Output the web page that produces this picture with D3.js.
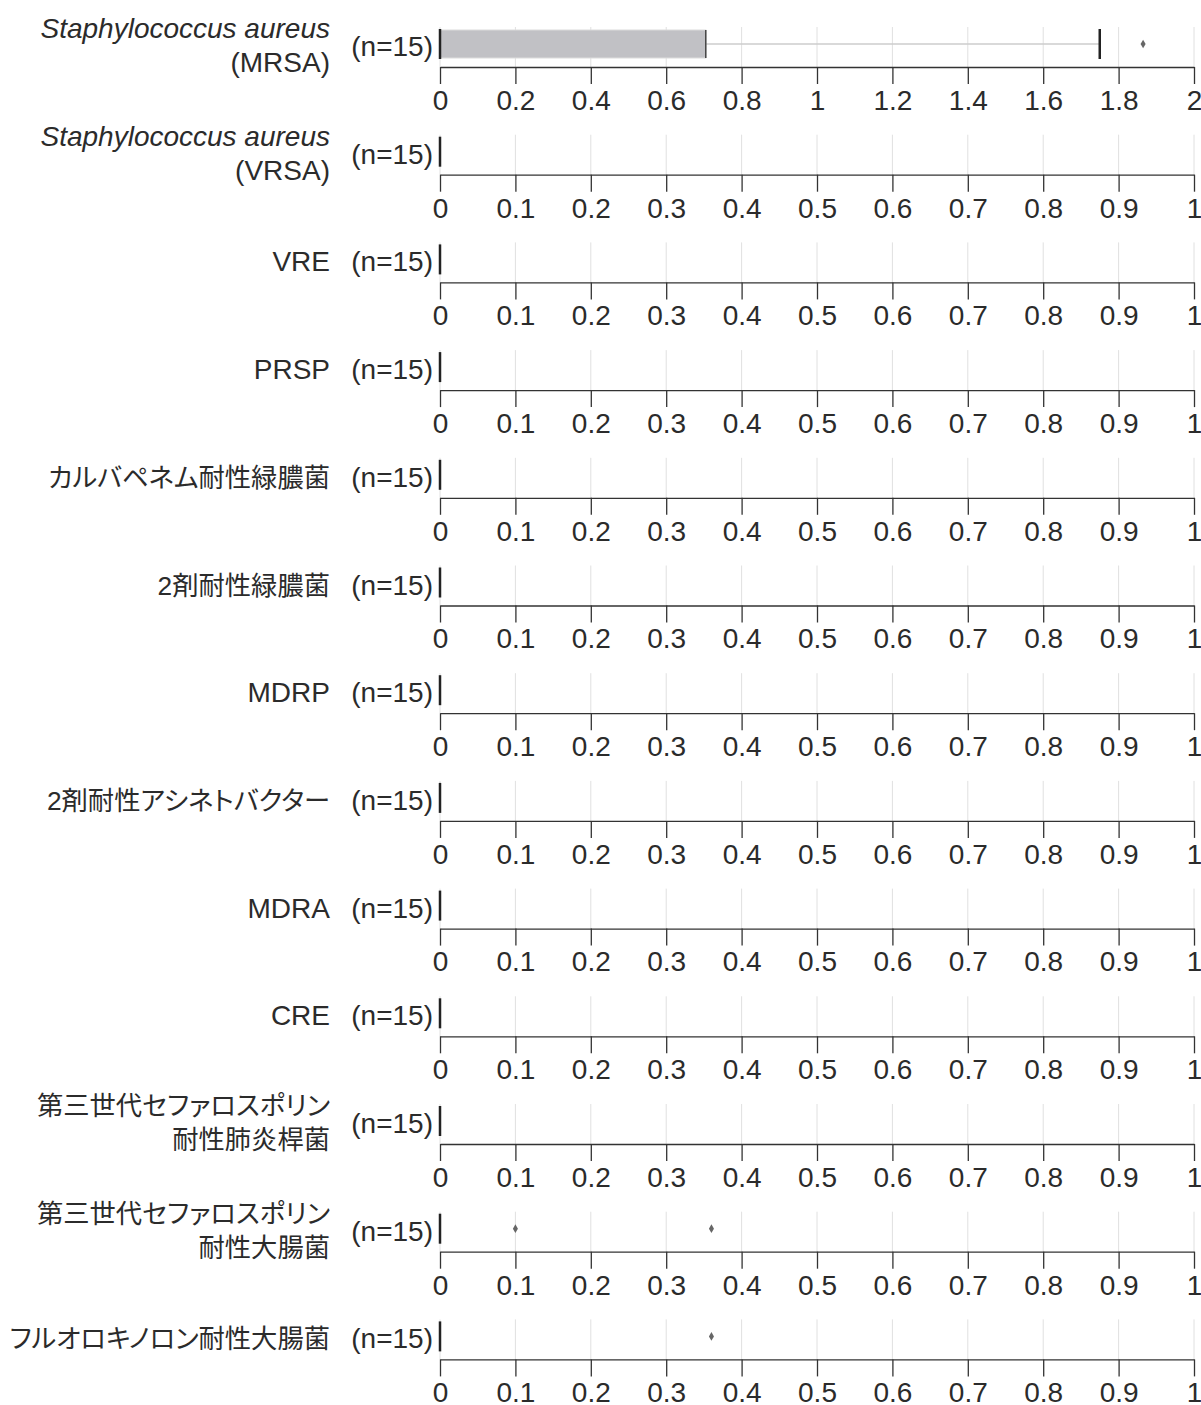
<!DOCTYPE html>
<html>
<head>
<meta charset="utf-8">
<script src="https://cdn.jsdelivr.net/npm/d3@7"></script>
<style>
  html, body { margin: 0; padding: 0; background: #fff; }
  svg text { font-family: "Liberation Sans", Arial, "Noto Sans CJK JP", sans-serif; fill: #2b2b2b; font-feature-settings: "palt"; }
</style>
</head>
<body>
<svg id="chart" width="1201" height="1405"></svg>
<script>
// ---- data ----
const categoryLine1 = [
  "Staphylococcus aureus", "Staphylococcus aureus", "", "", "", "", "", "", "", "",
  "第三世代セファロスポリン", "第三世代セファロスポリン", ""
];
const categoryLine2 = [
  "(MRSA)", "(VRSA)", "VRE", "PRSP", "カルバペネム耐性緑膿菌", "2剤耐性緑膿菌", "MDRP",
  "2剤耐性アシネトバクター", "MDRA", "CRE", "耐性肺炎桿菌", "耐性大腸菌", "フルオロキノロン耐性大腸菌"
];
const italicLine1 = [true, true, false, false, false, false, false, false, false, false, false, false, false];
const nValues = [15, 15, 15, 15, 15, 15, 15, 15, 15, 15, 15, 15, 15];
const q1Values     = [0, 0, 0, 0, 0, 0, 0, 0, 0, 0, 0, 0, 0];
const medianValues = [0, 0, 0, 0, 0, 0, 0, 0, 0, 0, 0, 0, 0];
const q3Values     = [0.705, 0, 0, 0, 0, 0, 0, 0, 0, 0, 0, 0, 0];
const whiskerLow   = [0, 0, 0, 0, 0, 0, 0, 0, 0, 0, 0, 0, 0];
const whiskerHigh  = [1.75, 0, 0, 0, 0, 0, 0, 0, 0, 0, 0, 0, 0];
const outlierValues = [[1.865], [], [], [], [], [], [], [], [], [], [], [0.1, 0.36], [0.36]];
const axisMax   = [2, 1, 1, 1, 1, 1, 1, 1, 1, 1, 1, 1, 1];
const tickCount = [10, 10, 10, 10, 10, 10, 10, 10, 10, 10, 10, 10, 10];

// ---- layout ----
const svg = d3.select("#chart");
const x0 = 440, x1 = 1194;
const firstAxisY = 67, rowStep = 107.7;
const plotH = 40;
const fontSize = 28;
const cjkSize = 26.3;
const isCJK = s => /[\u3000-\u9fff]/.test(s);

svg.append("rect").attr("width", 1201).attr("height", 1405).attr("fill", "#fff");

categoryLine2.forEach((cat, i) => {
  const ay = firstAxisY + i * rowStep;
  const g = svg.append("g");
  const x = d3.scaleLinear().domain([0, axisMax[i]]).range([x0, x1]);
  const ticks = x.ticks(tickCount[i]);

  // gridlines
  g.selectAll("line.grid").data(ticks).enter().append("line")
    .attr("x1", d => x(d)).attr("x2", d => x(d))
    .attr("y1", ay - plotH).attr("y2", ay)
    .attr("stroke", "#e0e0e0").attr("stroke-width", 1);

  // axis
  const axis = d3.axisBottom(x).tickValues(ticks).tickSize(17).tickSizeOuter(0).tickPadding(6)
    .tickFormat(d3.format("~g"));
  const ag = g.append("g").attr("transform", `translate(0,${ay})`).call(axis);
  ag.select(".domain").attr("stroke", "#333").attr("stroke-width", 1.3);
  ag.selectAll(".tick line").attr("stroke", "#333").attr("stroke-width", 1.3);
  ag.selectAll(".tick text").attr("font-size", fontSize).attr("fill", "#2b2b2b")
    .style("font-family", "'Liberation Sans', Arial, sans-serif");

  const cy = ay - 23;
  // whisker line
  if (whiskerHigh[i] > q3Values[i]) {
    g.append("line").attr("x1", x(q3Values[i])).attr("x2", x(whiskerHigh[i]))
      .attr("y1", cy).attr("y2", cy).attr("stroke", "#cccccc").attr("stroke-width", 1.5);
    g.append("line").attr("x1", x(whiskerHigh[i])).attr("x2", x(whiskerHigh[i]))
      .attr("y1", ay - 38).attr("y2", ay - 8).attr("stroke", "#222").attr("stroke-width", 2.5);
  }
  if (whiskerLow[i] < q1Values[i]) {
    g.append("line").attr("x1", x(whiskerLow[i])).attr("x2", x(q1Values[i]))
      .attr("y1", cy).attr("y2", cy).attr("stroke", "#cccccc").attr("stroke-width", 1.5);
  }
  // box
  if (q3Values[i] > q1Values[i]) {
    g.append("rect").attr("x", x(q1Values[i])).attr("y", ay - 37)
      .attr("width", x(q3Values[i]) - x(q1Values[i])).attr("height", 28)
      .attr("fill", "#c1c1c5").attr("stroke", "#dcdcdc").attr("stroke-width", 1);
    g.append("line").attr("x1", x(q3Values[i])).attr("x2", x(q3Values[i]))
      .attr("y1", ay - 37).attr("y2", ay - 9).attr("stroke", "#444").attr("stroke-width", 1.5);
  }
  // median
  g.append("line").attr("x1", x(medianValues[i])).attr("x2", x(medianValues[i]))
    .attr("y1", ay - 38).attr("y2", ay - 8).attr("stroke", "#222").attr("stroke-width", 2.5);
  // outliers
  g.selectAll("path.out").data(outlierValues[i]).enter().append("path")
    .attr("d", d3.symbol(d3.symbolDiamond).size(22))
    .attr("transform", d => `translate(${x(d)},${cy})`)
    .attr("fill", "#666");

  // n label
  g.append("text").attr("x", 433).attr("y", ay - 11).attr("text-anchor", "end")
    .attr("font-size", fontSize).text(`(n=${nValues[i]})`);

  // category label
  const sz = s => isCJK(s) ? cjkSize : fontSize;
  if (categoryLine1[i]) {
    g.append("text").attr("x", 330).attr("y", ay - 29).attr("text-anchor", "end")
      .attr("font-size", sz(categoryLine1[i])).attr("font-style", italicLine1[i] ? "italic" : "normal")
      .text(categoryLine1[i]);
    g.append("text").attr("x", 330).attr("y", ay + 5).attr("text-anchor", "end")
      .attr("font-size", sz(cat)).text(cat);
  } else {
    g.append("text").attr("x", 330).attr("y", ay - 11).attr("text-anchor", "end")
      .attr("font-size", sz(cat)).text(cat);
  }
});
</script>
</body>
</html>
